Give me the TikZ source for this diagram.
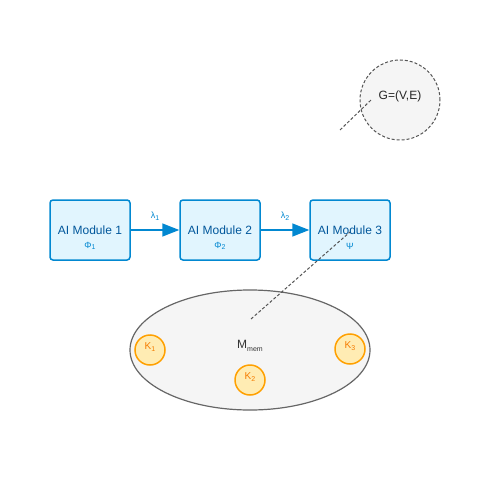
\documentclass[tikz,border=0pt]{standalone}
\usepackage{fontspec}
\setmainfont{Liberation Sans}
\usetikzlibrary{arrows.meta}
\definecolor{modfill}{HTML}{E1F5FE}
\definecolor{moddraw}{HTML}{0288D1}
\definecolor{modtext}{HTML}{01579B}
\definecolor{ellfill}{HTML}{F5F5F5}
\definecolor{elldraw}{HTML}{666666}
\definecolor{kfill}{HTML}{FFECB3}
\definecolor{kdraw}{HTML}{FFA000}
\definecolor{ktext}{HTML}{F57C00}
\definecolor{dashc}{HTML}{555555}
\newcommand{\subtxt}[1]{\raisebox{-0.35ex}{\fontsize{7}{7}\selectfont #1}}
\tikzset{
  module/.style={draw=moddraw, fill=modfill, line width=1.5pt, rounded corners=3pt,
    minimum width=80pt, minimum height=60pt, inner sep=0pt},
  modlabel/.style={text=modtext, font=\fontsize{12}{12}\selectfont, inner sep=0pt},
  modsub/.style={text=moddraw, font=\fontsize{9}{9}\selectfont, inner sep=0pt},
  flow/.style={draw=moddraw, line width=1.5pt, -{Triangle[length=17pt,width=13pt]}},
  lamlabel/.style={text=moddraw, font=\fontsize{9}{9}\selectfont, inner sep=0pt},
  kcirc/.style={circle, draw=kdraw, fill=kfill, line width=1.5pt, minimum size=30pt, inner sep=0pt},
  klabel/.style={text=ktext, font=\fontsize{10}{10}\selectfont, inner sep=0pt},
  dashlink/.style={draw=dashc, line width=1pt, dash pattern=on 3pt off 2pt},
}
\begin{document}
\begin{tikzpicture}[x=1pt,y=-1pt]
\useasboundingbox (0,0) rectangle (500,500);
% graph circle
\node[circle, draw=dashc, fill=ellfill, line width=1pt, dash pattern=on 3pt off 2pt,
  minimum size=80pt, inner sep=0pt] (G) at (400,100) {};
\node[text=black!85, font=\fontsize{12}{12}\selectfont, inner sep=0pt] (Gl) at (400,96) {G=(V,E)};
\coordinate (ga) at (340,130);
\coordinate (gb) at (371,100);
\draw[dashlink] (ga) -- (gb);
% modules
\node[module] (m1) at (90,230) {};
\node[module] (m2) at (220,230) {};
\node[module] (m3) at (350,230) {};
\node[modlabel] (t1) at (90,230) {AI Module 1};
\node[modlabel] (t2) at (220,230) {AI Module 2};
\node[modlabel] (t3) at (350,230) {AI Module 3};
\node[modsub] (s1) at (90,246) {Φ\subtxt{1}};
\node[modsub] (s2) at (220,246) {Φ\subtxt{2}};
\node[modsub] (s3) at (350,246) {Ψ};
\draw[flow] (m1.east) -- (m2.west);
\draw[flow] (m2.east) -- (m3.west);
\node[lamlabel] (l1) at (155,216) {λ\subtxt{1}};
\node[lamlabel] (l2) at (285,216) {λ\subtxt{2}};
% memory ellipse
\draw[draw=elldraw, fill=ellfill, line width=1.2pt] (250,350) ellipse [x radius=120, y radius=60];
\coordinate (M) at (250,350);
\node[text=black!80, font=\fontsize{12}{12}\selectfont, inner sep=0pt] (Ml) at (250,346) {M\subtxt{mem}};
\node[kcirc] (k1) at (150,350) {};
\node[kcirc] (k2) at (250,380) {};
\node[kcirc] (k3) at (350,349) {};
\node[klabel] (kl1) at (150,347) {K\subtxt{1}};
\node[klabel] (kl2) at (250,377) {K\subtxt{2}};
\node[klabel] (kl3) at (350,346) {K\subtxt{3}};
\coordinate (ma) at (251,319);
\coordinate (mb) at (350,232);
\draw[dashlink] (ma) -- (mb);
\end{tikzpicture}
\end{document}
